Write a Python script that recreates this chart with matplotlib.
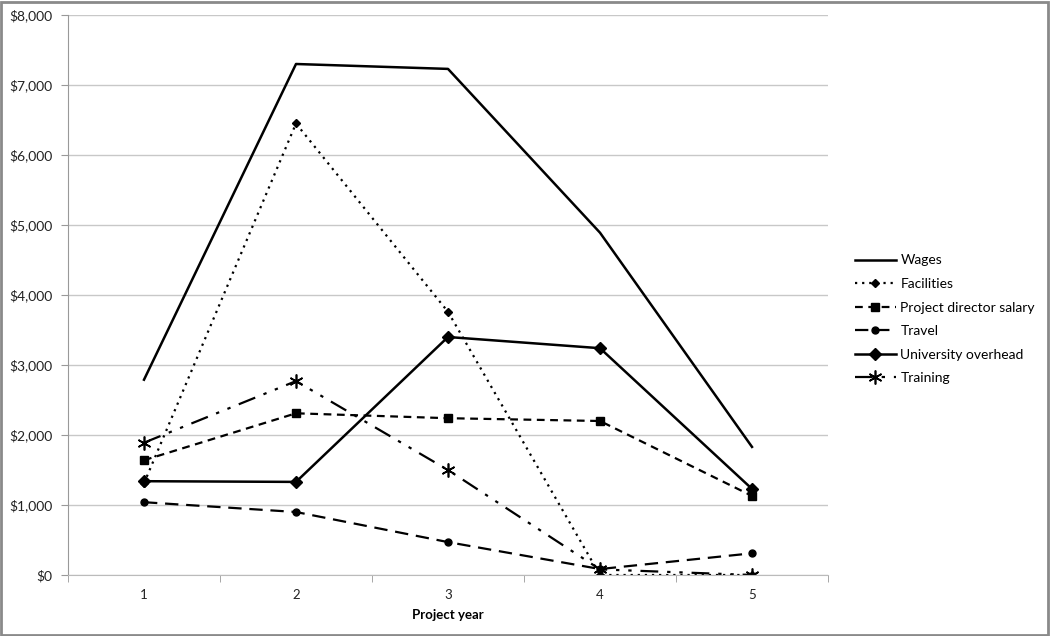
import numpy as np
import matplotlib
matplotlib.use('Agg')
import matplotlib.pyplot as plt
from matplotlib.patches import Rectangle
from matplotlib.ticker import FuncFormatter

plt.rcParams['font.family'] = ['Lato', 'DejaVu Sans']

# data
years = [1, 2, 3, 4, 5]
wages = [2790, 7300, 7230, 4890, 1830]
facilities = [1310, 6450, 3760, 0, 0]
director = [1640, 2310, 2240, 2200, 1130]
travel = [1040, 900, 470, 85, 310]
overhead = [1340, 1330, 3400, 3240, 1230]
training = [1890, 2770, 1500, 80, 0]

fig = plt.figure(figsize=(10.5, 6.36), dpi=100)
ax = fig.add_axes([68 / 1050, 61 / 636, 760 / 1050, 560 / 636])

x = np.arange(len(years))
ax.plot(x, wages, color='black', lw=1.8, label='Wages')
ax.plot(x, facilities, color='black', lw=1.6, ls=(0, (1, 2.2)), marker='D', ms=4.5,
        label='Facilities')
ax.plot(x, director, color='black', lw=1.6, ls=(0, (3.5, 2.5)), marker='s', ms=5.5,
        label='Project director salary')
ax.plot(x, travel, color='black', lw=1.6, ls=(0, (6, 3.5)), marker='o', ms=5,
        label='Travel')
ax.plot(x, overhead, color='black', lw=1.8, marker='D', ms=6, label='University overhead')
ax.plot(x, training, color='black', lw=1.6, ls=(0, (8, 4, 1.5, 4, 1.5, 4)),
        marker=(6, 2, 0), ms=10, mew=1.2, label='Training')

ax.set_xlim(-0.5, 4.5)
ax.set_ylim(0, 8000)
ax.set_yticks(np.arange(0, 8001, 1000))
ax.yaxis.set_major_formatter(FuncFormatter(lambda v, p: '${:,.0f}'.format(v)))
ax.set_xticks(x)
ax.set_xticklabels([str(y) for y in years])
ax.set_xticks(np.arange(-0.5, 4.6, 1), minor=True)
ax.tick_params(axis='x', which='major', length=0, pad=10, labelsize=9.5, colors='#222222')
ax.tick_params(axis='x', which='minor', length=5, color='#999999', direction='out')
ax.tick_params(axis='y', length=5, color='#999999', labelsize=10, colors='#222222', pad=6)

ax.grid(axis='y', color='#c8c8c8', lw=1)
ax.set_axisbelow(True)
for s in ['top', 'right']:
    ax.spines[s].set_visible(False)
ax.spines['left'].set_color('#999999')
ax.spines['bottom'].set_color('#bbbbbb')
ax.set_xlabel('Project year', fontsize=9.5, fontweight='bold', labelpad=6)

leg = fig.legend(loc='upper left', bbox_to_anchor=(842 / 1050, 1 - 242 / 636), frameon=False,
                 fontsize=10, handlelength=3.0, handletextpad=0.3, labelspacing=0.83,
                 numpoints=1)

fig.add_artist(Rectangle((0.001, 0.002), 0.997, 0.995, transform=fig.transFigure,
                         fill=False, edgecolor='#8a8a8a', lw=2))

fig.savefig('out.png', dpi=100)
